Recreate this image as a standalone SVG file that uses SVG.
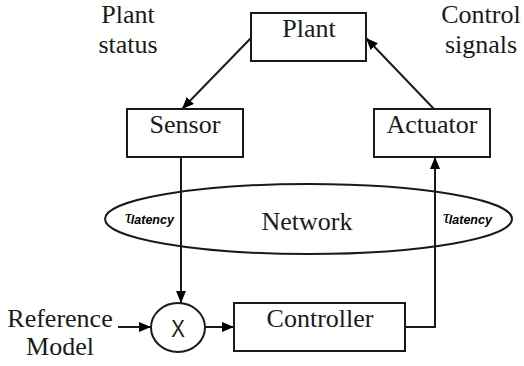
<svg xmlns="http://www.w3.org/2000/svg" width="524" height="366" viewBox="0 0 524 366">
<style>
.box{fill:#fff;stroke:#1a1a1a;stroke-width:2}
.lbl{font-family:'Liberation Serif',serif;font-size:26px;fill:#1a1a1a;text-anchor:middle}
.ln{fill:none;stroke:#1a1a1a;stroke-width:2}
.tau{font-family:'Liberation Serif',serif;font-style:italic;font-size:19px;fill:#000}
.lat{font-family:'Liberation Sans',sans-serif;font-style:italic;font-weight:bold;font-size:12.5px;fill:#000}
</style>
<defs>
<marker id="ah" viewBox="0 0 12 10" refX="12" refY="5" markerWidth="12" markerHeight="10" markerUnits="userSpaceOnUse" orient="auto">
<path d="M0,0 L12,5 L0,10 Z" fill="#000"/>
</marker>
</defs>
<rect width="524" height="366" fill="#fff"/>
<g id="network">
<ellipse cx="308.5" cy="219" rx="203.5" ry="35" fill="none" stroke="#1a1a1a" stroke-width="2"/>
<text class="lbl" x="307" y="230">Network</text>
</g>
<g id="connectors">
<path class="ln" d="M251,38 L182,109" marker-end="url(#ah)"/>
<path class="ln" d="M434,109 L366,38" marker-end="url(#ah)"/>
<path class="ln" d="M181,157 L181,303" marker-end="url(#ah)"/>
<path class="ln" d="M118,327 L151,327" marker-end="url(#ah)"/>
<path class="ln" d="M205,327 L234,327" marker-end="url(#ah)"/>
<path class="ln" d="M405,327 L435,327 L435,157" marker-end="url(#ah)"/>
</g>
<g id="tau-left">
<text x="125" y="223"><tspan class="tau">τ</tspan><tspan class="lat" dx="-1" dy="1">latency</tspan></text>
</g>
<g id="tau-right">
<text x="443" y="223"><tspan class="tau">τ</tspan><tspan class="lat" dx="-1" dy="1">latency</tspan></text>
</g>
<g id="plant">
<rect class="box" x="251" y="13" width="115" height="48"/>
<text class="lbl" x="309" y="37">Plant</text>
</g>
<g id="sensor">
<rect class="box" x="127" y="109" width="116" height="48"/>
<text class="lbl" x="185" y="133">Sensor</text>
</g>
<g id="actuator">
<rect class="box" x="374" y="109" width="116" height="48"/>
<text class="lbl" x="432" y="133">Actuator</text>
</g>
<g id="controller">
<rect class="box" x="234" y="303" width="171" height="48"/>
<text class="lbl" x="320" y="327">Controller</text>
</g>
<g id="multiplier">
<ellipse cx="178" cy="327.5" rx="27" ry="24.5" fill="#fff" stroke="#1a1a1a" stroke-width="2"/>
<text x="178" y="337" font-family="Liberation Sans, sans-serif" font-size="24" fill="#1a1a1a" text-anchor="middle" transform="translate(178 0) scale(0.85 1) translate(-178 0)">X</text>
</g>
<g id="plant-status">
<text class="lbl" x="128" y="23">Plant</text>
<text class="lbl" x="128" y="53">status</text>
</g>
<g id="control-signals">
<text class="lbl" x="481" y="23">Control</text>
<text class="lbl" x="481" y="53">signals</text>
</g>
<g id="reference-model">
<text class="lbl" x="60" y="327">Reference</text>
<text class="lbl" x="60" y="355">Model</text>
</g>
</svg>
